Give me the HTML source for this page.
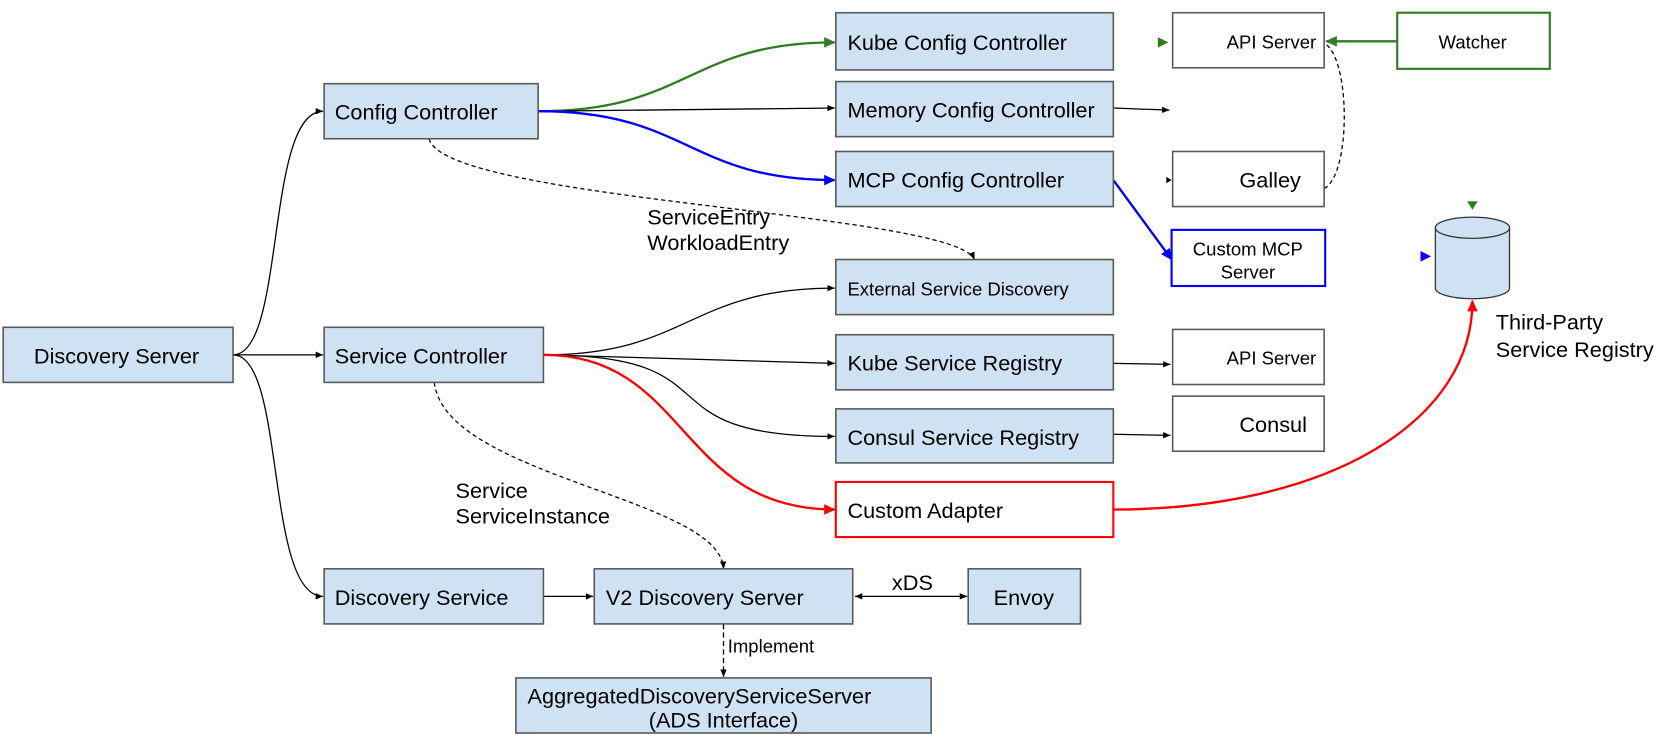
<!DOCTYPE html>
<html><head><meta charset="utf-8"><style>
body{margin:0;background:#fff}
svg{display:block;font-family:"Liberation Sans",Arial,sans-serif}
</style></head><body>
<svg width="1661" height="740" viewBox="0 0 1568 698.6" preserveAspectRatio="none" xmlns="http://www.w3.org/2000/svg">
<defs>
<marker id="ab" markerWidth="8" markerHeight="8" refX="7" refY="4" orient="auto" markerUnits="userSpaceOnUse"><path d="M0,1 L7,4 L0,7z" fill="#000"/></marker>
<marker id="abs" markerWidth="8" markerHeight="8" refX="1" refY="4" orient="auto" markerUnits="userSpaceOnUse"><path d="M8,1 L1,4 L8,7z" fill="#000"/></marker>
<marker id="ag" markerWidth="12" markerHeight="12" refX="10" refY="6" orient="auto" markerUnits="userSpaceOnUse"><path d="M0,1 L11,6 L0,11z" fill="#2f7d22"/></marker>
<marker id="au" markerWidth="12" markerHeight="12" refX="10" refY="6" orient="auto" markerUnits="userSpaceOnUse"><path d="M0,1 L11,6 L0,11z" fill="#0000ff"/></marker>
<marker id="ar" markerWidth="12" markerHeight="12" refX="10" refY="6" orient="auto" markerUnits="userSpaceOnUse"><path d="M0,1 L11,6 L0,11z" fill="#ff0000"/></marker>
</defs>
<g fill="none" stroke-width="1.2">
<path d="M220,335 C270,335 250,105 305,105" stroke="#000" marker-end="url(#ab)"/>
<path d="M220,335 L305,335" stroke="#000" marker-end="url(#ab)"/>
<path d="M220,335 C270,335 250,563 305,563" stroke="#000" marker-end="url(#ab)"/>
<path d="M508,105 C650,105 650,40 788,40" stroke="#2f7d22" stroke-width="2.2" marker-end="url(#ag)"/>
<path d="M508,105 L788,102" stroke="#000" marker-end="url(#ab)"/>
<path d="M508,105 C650,105 650,170 788,170" stroke="#0000ff" stroke-width="2.2" marker-end="url(#au)"/>
<path d="M405,131 C420,190 900,200 920,245" stroke="#000" stroke-dasharray="4,3" marker-end="url(#ab)"/>
<path d="M1051,102 L1104,104" stroke="#000" marker-end="url(#ab)"/>
<path d="M1051,170 L1106,245" stroke="#0000ff" stroke-width="2.2" marker-end="url(#au)"/>
<path d="M1250,178 C1275,165 1275,60 1252,42" stroke="#000" stroke-dasharray="4,3"/>
<path d="M1319,39 L1252,39" stroke="#2f7d22" stroke-width="2.2" marker-end="url(#ag)"/>
<path d="M513,335 C650,335 650,272 788,272" stroke="#000" marker-end="url(#ab)"/>
<path d="M513,335 L788,343" stroke="#000" marker-end="url(#ab)"/>
<path d="M513,335 C700,335 600,412 788,412" stroke="#000" marker-end="url(#ab)"/>
<path d="M513,335 C650,335 640,481 788,481" stroke="#ff0000" stroke-width="2.2" marker-end="url(#ar)"/>
<path d="M410,361 C420,450 680,470 683,537" stroke="#000" stroke-dasharray="4,3" marker-end="url(#ab)"/>
<path d="M1051,343 L1105,344" stroke="#000" marker-end="url(#ab)"/>
<path d="M1051,410 L1105,411" stroke="#000" marker-end="url(#ab)"/>
<path d="M1051,481 C1250,481 1390,400 1390,284" stroke="#ff0000" stroke-width="2.2" marker-end="url(#ar)"/>
<path d="M513,563 L560,563" stroke="#000" marker-end="url(#ab)"/>
<path d="M807,563 L913,563" stroke="#000" marker-start="url(#abs)" marker-end="url(#ab)"/>
<path d="M683,589 L683,639" stroke="#000" stroke-dasharray="5,3" marker-end="url(#ab)"/>
</g>
<path d="M1093,35 L1103,40 L1093,45z" fill="#2f7d22"/>
<path d="M1385,190 L1390,198 L1395,190z" fill="#2f7d22"/>
<path d="M1341,237 L1351,242 L1341,247z" fill="#0000ff"/>
<path d="M1101,167 L1106,170 L1101,173z" fill="#000"/>
<g fill="#cfe2f3" stroke="#595959" stroke-width="1.5">
<rect x="3" y="309" width="217" height="52"/>
<rect x="306" y="79" width="202" height="52"/>
<rect x="306" y="309" width="207" height="52"/>
<rect x="306" y="537" width="207" height="52"/>
<rect x="789" y="12" width="262" height="54"/>
<rect x="789" y="77" width="262" height="52"/>
<rect x="789" y="143" width="262" height="52"/>
<rect x="789" y="245" width="262" height="52"/>
<rect x="789" y="316" width="262" height="52"/>
<rect x="789" y="386" width="262" height="51"/>
<rect x="561" y="537" width="244" height="52"/>
<rect x="914" y="537" width="106" height="52"/>
<rect x="487" y="640" width="392" height="52"/>
</g>
<g fill="#fff" stroke-width="1.5">
<rect x="789" y="455" width="262" height="52" stroke="#ff0000" stroke-width="2"/>
<rect x="1107" y="12" width="143" height="52" stroke="#595959"/>
<rect x="1107" y="143" width="143" height="52" stroke="#595959"/>
<rect x="1106" y="217" width="145" height="53" stroke="#0000ff" stroke-width="2"/>
<rect x="1107" y="311" width="143" height="52" stroke="#595959"/>
<rect x="1107" y="374" width="143" height="52" stroke="#595959"/>
<rect x="1319" y="12" width="144" height="53" stroke="#2f7d22" stroke-width="2"/>
</g>
<path d="M1355,215 L1355,272 A35,10 0 0 0 1425,272 L1425,215" fill="#cfe2f3" stroke="#333" stroke-width="1.2"/>
<ellipse cx="1390" cy="215" rx="35" ry="10" fill="#cfe2f3" stroke="#333" stroke-width="1.2"/>
<g font-size="20.5" fill="#000">
<text x="32" y="343">Discovery Server</text>
<text x="316" y="113">Config Controller</text>
<text x="316" y="343">Service Controller</text>
<text x="316" y="571">Discovery Service</text>
<text x="800" y="47">Kube Config Controller</text>
<text x="800" y="111">Memory Config Controller</text>
<text x="800" y="177">MCP Config Controller</text>
<text x="800" y="350">Kube Service Registry</text>
<text x="800" y="420">Consul Service Registry</text>
<text x="800" y="489">Custom Adapter</text>
<text x="572" y="571">V2 Discovery Server</text>
<text x="938" y="571">Envoy</text>
<text x="498" y="664">AggregatedDiscoveryServiceServer</text>
<text x="683" y="687" text-anchor="middle">(ADS Interface)</text>
<text x="1170" y="177">Galley</text>
<text x="1170" y="408">Consul</text>
<text x="611" y="212">ServiceEntry</text>
<text x="611" y="236">WorkloadEntry</text>
<text x="430" y="470">Service</text>
<text x="430" y="494">ServiceInstance</text>
<text x="842" y="557">xDS</text>
<text x="1412" y="311">Third-Party</text>
<text x="1412" y="337">Service Registry</text>
</g>
<g font-size="17.5" fill="#000">
<text x="800" y="279">External Service Discovery</text>
<text x="1158" y="46">API Server</text>
<text x="1158" y="344">API Server</text>
<text x="1178" y="241" text-anchor="middle">Custom MCP</text>
<text x="1178" y="263" text-anchor="middle">Server</text>
<text x="1358" y="46">Watcher</text>
<text x="687" y="616">Implement</text>
</g>
</svg>
</body></html>
